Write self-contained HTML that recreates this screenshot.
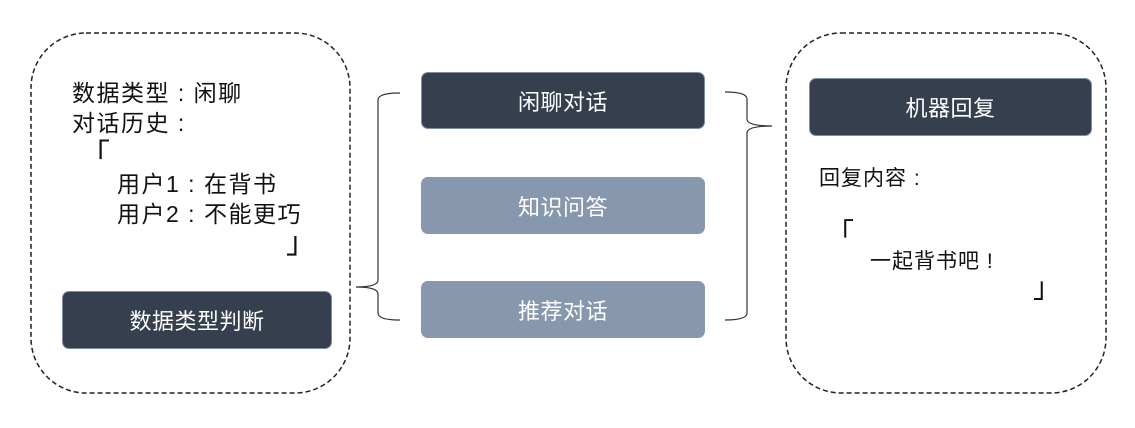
<!DOCTYPE html>
<html><head><meta charset="utf-8"><style>
body{margin:0;width:1135px;height:428px;background:#fff;position:relative;overflow:hidden;font-family:"Liberation Sans","Noto Sans CJK SC",sans-serif;}
.t{position:absolute;font-size:23px;color:#111;white-space:nowrap;line-height:1;letter-spacing:1.5px;}
.b{position:absolute;border-radius:7px;color:#fff;font-size:22px;display:flex;align-items:center;justify-content:center;box-sizing:border-box;border:1.5px solid #7f8ea6;letter-spacing:0.5px;}
.d{background:#363f4e;}
.l{background:#8797ae;border-color:#8797ae;}
</style></head><body>
<svg width="1135" height="428" style="position:absolute;left:0;top:0">
<rect x="31" y="33" width="319" height="360" rx="55" fill="none" stroke="#222" stroke-width="1.5" stroke-dasharray="5,3"/>
<rect x="786" y="33" width="320" height="360" rx="55" fill="none" stroke="#222" stroke-width="1.5" stroke-dasharray="5,3"/>
<path d="M400 93 Q378 93 378 100 L378 280 Q378 287 356 287 Q378 287 378 294 L378 313 Q378 320 400 320" fill="none" stroke="#333" stroke-width="1.2"/>
<path d="M725 92 Q747 92 747 99 L747 119 Q747 126 772 126 Q747 126 747 133 L747 313 Q747 320 725 320" fill="none" stroke="#333" stroke-width="1.2"/>
</svg>
<div class="t" style="left:72px;top:82px">数据类型 : 闲聊</div>
<div class="t" style="left:72px;top:112px">对话历史 :</div>
<div class="t" style="left:80px;top:141px;font-size:30px">「</div>
<div class="t" style="left:117px;top:173px">用户1 : 在背书</div>
<div class="t" style="left:117px;top:203px">用户2 : 不能更巧</div>
<div class="t" style="left:286px;top:229px;font-size:30px">」</div>
<div class="b d" style="left:62px;top:291px;width:270px;height:58px">数据类型判断</div>
<div class="b d" style="left:421px;top:72px;width:284px;height:57px">闲聊对话</div>
<div class="b l" style="left:421px;top:177px;width:284px;height:57px">知识问答</div>
<div class="b l" style="left:421px;top:281px;width:284px;height:57px">推荐对话</div>
<div class="b d" style="left:809px;top:78px;width:283px;height:58px">机器回复</div>
<div class="t" style="left:819px;top:168px;font-size:21px;letter-spacing:1px">回复内容 :</div>
<div class="t" style="left:826px;top:220px;font-size:28px">「</div>
<div class="t" style="left:870px;top:251px;font-size:21px;letter-spacing:1px">一起背书吧 !</div>
<div class="t" style="left:1033px;top:274px;font-size:28px">」</div>
</body></html>
